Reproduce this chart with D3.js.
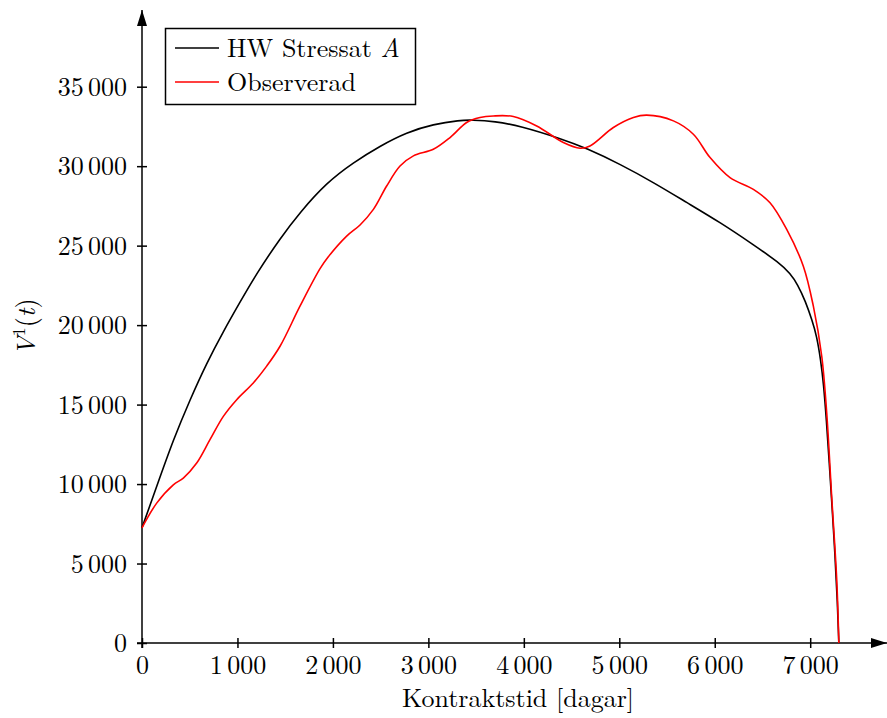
<!DOCTYPE html>
<html>
<head>
<meta charset="utf-8">
<script src="https://cdn.jsdelivr.net/npm/d3@7"></script>
<style>
  html, body { margin: 0; padding: 0; background: #fff; }
  svg { display: block; }
</style>
</head>
<body>
<svg id="chart" width="887" height="718"></svg>
<script>
// Hull-White stressed scenario A (days, value)
const hwDays = [0, 154, 328, 503, 678, 852, 1027, 1201, 1446, 1655, 1935, 2214, 2493, 2773, 3052, 3331, 3450, 3700, 3960, 4380, 4660, 5010, 5360, 5710, 6060, 6400, 6680, 6790, 6870, 6950, 7020, 7069, 7110, 7140, 7170, 7200, 7230, 7260, 7285, 7300];
const hwValues = [7250, 9850, 12790, 15310, 17620, 19600, 21450, 23250, 25450, 27100, 28970, 30230, 31270, 32130, 32640, 32890, 32910, 32820, 32530, 31750, 31120, 30120, 28970, 27700, 26450, 25080, 23900, 23250, 22550, 21500, 20300, 19300, 17800, 16300, 14000, 11300, 8500, 5500, 2600, 0];

// Observed values (days, value)
const obsDays = [0, 154, 328, 433, 573, 712, 852, 992, 1166, 1306, 1446, 1655, 1865, 1952, 2144, 2284, 2424, 2563, 2703, 2843, 3052, 3227, 3401, 3541, 3680, 3890, 4135, 4414, 4589, 4693, 4938, 5148, 5287, 5567, 5776, 5951, 6160, 6405, 6579, 6754, 6928, 7033, 7121, 7173, 7225, 7278, 7300];
const obsValues = [7250, 8800, 9950, 10375, 11320, 12790, 14260, 15310, 16360, 17420, 18670, 21190, 23550, 24300, 25600, 26300, 27280, 28750, 30010, 30650, 31060, 31800, 32750, 33060, 33160, 33125, 32530, 31490, 31130, 31270, 32430, 33060, 33210, 32850, 32010, 30540, 29280, 28540, 27700, 26020, 23710, 21190, 18040, 14470, 9220, 3970, 0];

const xTicks = [0, 1000, 2000, 3000, 4000, 5000, 6000, 7000];
const yTicks = [0, 5000, 10000, 15000, 20000, 25000, 30000, 35000];

const legendLabels = ["HW Stressat ", "Observerad"];
const seriesColors = ["#000000", "#ff0000"];

const FONT = "'Latin Modern Roman', 'Liberation Serif', serif";
const FS = "26px";

const svg = d3.select("#chart");

const x = d3.scaleLinear().domain([0, 7000]).range([142, 810.2]);
const y = d3.scaleLinear().domain([0, 35000]).range([643, 86.7]);

// Numbers with a thin space between thousand groups
function setNumber(sel) {
  sel.each(function (d) {
    const t = d3.select(this);
    const s = String(d);
    t.text(null);
    if (s.length > 3) {
      t.append("tspan").text(s.slice(0, s.length - 3));
      t.append("tspan").attr("dx", "0.1667em").text(s.slice(-3));
    } else {
      t.text(s);
    }
  });
}

// Arrow markers for the axes
const defs = svg.append("defs");
defs.append("marker")
  .attr("id", "arrow")
  .attr("viewBox", "0 0 16 10")
  .attr("refX", 16).attr("refY", 5)
  .attr("markerWidth", 16).attr("markerHeight", 10)
  .attr("markerUnits", "userSpaceOnUse")
  .attr("orient", "auto")
  .append("path")
  .attr("d", "M0,0 L16,5 L0,10 Z")
  .attr("fill", "#000");

// Axis lines
svg.append("line")
  .attr("x1", 137).attr("y1", y(0)).attr("x2", 887).attr("y2", y(0))
  .attr("stroke", "#000").attr("stroke-width", 1.5)
  .attr("marker-end", "url(#arrow)");
svg.append("line")
  .attr("x1", x(0)).attr("y1", 648).attr("x2", x(0)).attr("y2", 10)
  .attr("stroke", "#000").attr("stroke-width", 1.5)
  .attr("marker-end", "url(#arrow)");

// X axis ticks and labels
const xAxis = svg.append("g")
  .attr("transform", `translate(0,${y(0)})`)
  .call(d3.axisBottom(x).tickValues(xTicks).tickSize(5).tickPadding(0));
xAxis.attr("font-family", null).attr("font-size", null);
xAxis.select(".domain").remove();
xAxis.selectAll(".tick line").attr("y1", -5).attr("y2", 5).attr("stroke", "#000").attr("stroke-width", 1.5);
xAxis.selectAll(".tick text")
  .attr("y", 31).attr("dy", null)
  .attr("fill", "#000")
  .style("font-family", FONT)
  .style("font-size", FS)
  .call(setNumber);

// Y axis ticks and labels
const yAxis = svg.append("g")
  .attr("transform", `translate(${x(0)},0)`)
  .call(d3.axisLeft(y).tickValues(yTicks).tickSize(5).tickPadding(0));
yAxis.attr("font-family", null).attr("font-size", null);
yAxis.select(".domain").remove();
yAxis.selectAll(".tick line").attr("x1", -5).attr("x2", 5).attr("stroke", "#000").attr("stroke-width", 1.5);
yAxis.selectAll(".tick text")
  .attr("x", -15).attr("dy", "0.33em")
  .attr("fill", "#000")
  .style("font-family", FONT)
  .style("font-size", FS)
  .call(setNumber);

// Axis titles
svg.append("text")
  .attr("x", 518).attr("y", 707)
  .attr("text-anchor", "middle")
  .style("font-family", FONT)
  .style("font-size", FS)
  .text("Kontraktstid [dagar]");

const yTitle = svg.append("text")
  .attr("transform", "translate(35,327) rotate(-90)")
  .attr("text-anchor", "middle")
  .style("font-family", FONT)
  .style("font-size", FS);
yTitle.append("tspan").style("font-style", "italic").text("V");
yTitle.append("tspan").attr("dy", -10).style("font-size", "18px").text("1");
yTitle.append("tspan").attr("dy", 10).text("(");
yTitle.append("tspan").style("font-style", "italic").text("t");
yTitle.append("tspan").text(")");

// Curves: the model curve is a smooth B-spline, the observed one passes through its samples
const lineSmooth = d3.line()
  .x(d => x(d[0]))
  .y(d => y(d[1]))
  .curve(d3.curveBasis);
const lineThrough = d3.line()
  .x(d => x(d[0]))
  .y(d => y(d[1]))
  .curve(d3.curveCatmullRom.alpha(0.5));

const hwData = hwDays.map((d, i) => [d, hwValues[i]]);
const obsData = obsDays.map((d, i) => [d, obsValues[i]]);

svg.append("path")
  .datum(hwData)
  .attr("d", lineSmooth)
  .attr("fill", "none")
  .attr("stroke", seriesColors[0])
  .attr("stroke-width", 1.6);

svg.append("path")
  .datum(obsData)
  .attr("d", lineThrough)
  .attr("fill", "none")
  .attr("stroke", seriesColors[1])
  .attr("stroke-width", 1.6);

// Legend
const legend = svg.append("g");
legend.append("rect")
  .attr("x", 165.5).attr("y", 28.5).attr("width", 250).attr("height", 76)
  .attr("fill", "#fff").attr("stroke", "#000").attr("stroke-width", 1.5);

const legendRows = [48, 82];
legendLabels.forEach((label, i) => {
  legend.append("line")
    .attr("x1", 175).attr("x2", 219)
    .attr("y1", legendRows[i]).attr("y2", legendRows[i])
    .attr("stroke", seriesColors[i]).attr("stroke-width", 1.6);
  const t = legend.append("text")
    .attr("x", 227).attr("y", legendRows[i] + 9)
    .style("font-family", FONT)
    .style("font-size", FS)
    .text(label);
  if (i === 0) t.append("tspan").style("font-style", "italic").text("A");
});
</script>
</body>
</html>
